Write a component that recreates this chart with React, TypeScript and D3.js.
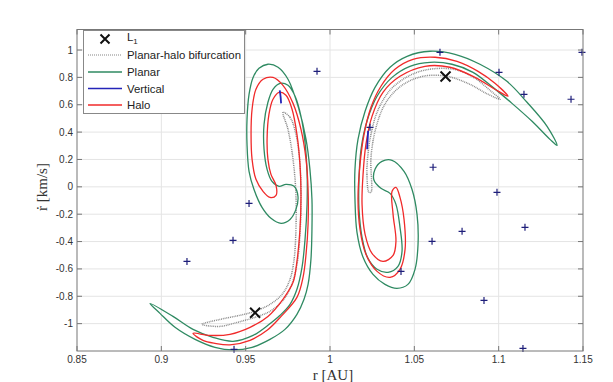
import React from 'react';
import * as d3 from 'd3';

type P = [number, number];

const W = 613;
const H = 382;

const xTicks = [0.85, 0.9, 0.95, 1, 1.05, 1.1, 1.15];
const xTickLabels = ['0.85', '0.9', '0.95', '1', '1.05', '1.1', '1.15'];
const yTicks = [-1, -0.8, -0.6, -0.4, -0.2, 0, 0.2, 0.4, 0.6, 0.8, 1];
const yTickLabels = ['-1', '-0.8', '-0.6', '-0.4', '-0.2', '0', '0.2', '0.4', '0.6', '0.8', '1'];

// planar manifold cuts (closed curves)
const planarLeft: P[] = [
  [0.8933, -0.852], [0.8992, -0.925], [0.9081, -1.027], [0.92, -1.115], [0.9318, -1.173], [0.9425, -1.192],
  [0.9538, -1.173], [0.9644, -1.115], [0.9733, -1.042], [0.9804, -0.932], [0.9846, -0.822], [0.987, -0.713],
  [0.9887, -0.53], [0.9893, -0.311], [0.9893, -0.091], [0.9881, 0.128], [0.9858, 0.347], [0.9816, 0.567],
  [0.9751, 0.786], [0.9692, 0.874], [0.9632, 0.896], [0.9579, 0.866], [0.9544, 0.8], [0.952, 0.676],
  [0.9508, 0.493], [0.9508, 0.311], [0.952, 0.113], [0.9549, -0.018], [0.9597, -0.15], [0.965, -0.23],
  [0.971, -0.267], [0.9763, -0.238], [0.9798, -0.165], [0.981, -0.069], [0.9787, 0.004], [0.9739, 0.018],
  [0.9698, 0.004], [0.9656, 0.04], [0.9627, 0.128], [0.9609, 0.274], [0.9609, 0.457], [0.9632, 0.618],
  [0.9662, 0.713], [0.9704, 0.757], [0.9751, 0.742], [0.9793, 0.662], [0.9828, 0.515], [0.9852, 0.325],
  [0.9864, 0.113], [0.9864, -0.128], [0.9852, -0.384], [0.9834, -0.589], [0.9804, -0.749], [0.9763, -0.859],
  [0.9704, -0.939], [0.9632, -1.012], [0.9544, -1.086], [0.9425, -1.129], [0.9306, -1.1], [0.9188, -1.042],
  [0.9069, -0.947],
];

const planarRight: P[] = [
  [1.1346, 0.303], [1.1287, 0.442], [1.1168, 0.618], [1.1049, 0.771], [1.0889, 0.896], [1.0741, 0.969],
  [1.0593, 0.991], [1.0457, 0.954], [1.0356, 0.874], [1.0267, 0.727], [1.0208, 0.552], [1.0166, 0.347],
  [1.0148, 0.128], [1.0148, -0.091], [1.016, -0.333], [1.0196, -0.515], [1.0255, -0.64], [1.0326, -0.713],
  [1.0397, -0.742], [1.0462, -0.713], [1.0504, -0.603], [1.0522, -0.42], [1.0516, -0.201], [1.0486, -0.018],
  [1.0439, 0.113], [1.0368, 0.194], [1.0308, 0.186], [1.0267, 0.128], [1.0261, 0.048], [1.0302, -0.011],
  [1.0356, -0.048], [1.0391, -0.128], [1.0415, -0.296], [1.0427, -0.472], [1.0403, -0.581], [1.0344, -0.625],
  [1.0279, -0.603], [1.0225, -0.523], [1.019, -0.369], [1.0172, -0.165], [1.0172, 0.055], [1.0184, 0.274],
  [1.0219, 0.479], [1.0279, 0.662], [1.0368, 0.8], [1.0474, 0.881], [1.0593, 0.91], [1.0723, 0.896],
  [1.0848, 0.837], [1.0966, 0.727], [1.1079, 0.61], [1.1198, 0.479], [1.1304, 0.347],
];

// halo manifold cuts
const haloLeft: P[] = [
  [0.9188, -1.071], [0.9247, -1.122], [0.9318, -1.144], [0.9407, -1.155], [0.9526, -1.122], [0.9627, -1.049],
  [0.971, -0.947], [0.9804, -0.808], [0.984, -0.662], [0.9858, -0.493], [0.987, -0.274], [0.987, -0.018],
  [0.9858, 0.201], [0.9828, 0.42], [0.9781, 0.61], [0.9721, 0.742], [0.9662, 0.8], [0.9603, 0.786],
  [0.9561, 0.713], [0.9538, 0.567], [0.9532, 0.384], [0.9538, 0.201], [0.9561, 0.055], [0.9603, -0.033],
  [0.9644, -0.077], [0.968, -0.062], [0.968, 0.011], [0.965, 0.091], [0.9632, 0.201], [0.9627, 0.347],
  [0.9638, 0.53], [0.9662, 0.64], [0.9698, 0.691], [0.9739, 0.669], [0.9775, 0.567], [0.9804, 0.384],
  [0.9822, 0.165], [0.9828, -0.055], [0.9822, -0.311], [0.9804, -0.545], [0.9781, -0.698], [0.9721, -0.822],
  [0.9632, -0.947], [0.9526, -1.027], [0.9407, -1.078], [0.9289, -1.086],
];

const haloRight: P[] = [
  [1.1055, 0.662], [1.0978, 0.757], [1.0878, 0.844], [1.0753, 0.917], [1.0623, 0.947], [1.0492, 0.932],
  [1.0385, 0.859], [1.0302, 0.735], [1.0243, 0.581], [1.0202, 0.384], [1.0178, 0.165], [1.0166, -0.091],
  [1.0178, -0.311], [1.0213, -0.493], [1.0279, -0.618], [1.0356, -0.662], [1.0415, -0.603], [1.0445, -0.457],
  [1.0439, -0.238], [1.0415, -0.077], [1.0391, -0.004], [1.0368, -0.033], [1.0374, -0.201], [1.0391, -0.398],
  [1.0374, -0.501], [1.0314, -0.545], [1.0249, -0.486], [1.0208, -0.347], [1.019, -0.128], [1.0196, 0.091],
  [1.0213, 0.311], [1.0249, 0.515], [1.0314, 0.691], [1.0415, 0.808], [1.0563, 0.881], [1.0711, 0.874],
  [1.086, 0.8], [1.0978, 0.713],
];

// planar-halo bifurcation orbit cuts
const bifLeft: P[] = [
  [0.9721, 0.545], [0.9763, 0.508], [0.9798, 0.384], [0.9822, 0.165], [0.9828, -0.091], [0.9822, -0.347],
  [0.9804, -0.567], [0.9769, -0.727], [0.9716, -0.837], [0.9644, -0.91], [0.9555, -0.954], [0.9449, -0.991],
  [0.9348, -1.02], [0.9241, -1.005], [0.9348, -0.969], [0.9466, -0.939], [0.9555, -0.91], [0.9644, -0.859],
  [0.9716, -0.786], [0.9763, -0.676], [0.9787, -0.53], [0.9798, -0.311], [0.9798, -0.055], [0.9781, 0.201],
  [0.9751, 0.42],
];

const bifRight: P[] = [
  [1.0231, -0.04], [1.0219, 0.091], [1.0225, 0.238], [1.0243, 0.384], [1.0279, 0.545], [1.035, 0.698],
  [1.0433, 0.786], [1.0534, 0.844], [1.0652, 0.866], [1.0759, 0.852], [1.086, 0.793], [1.0949, 0.705],
  [1.1008, 0.64], [1.0925, 0.684], [1.083, 0.749], [1.0694, 0.808], [1.0551, 0.808], [1.0427, 0.742],
  [1.0332, 0.618], [1.0273, 0.435], [1.0243, 0.216], [1.0243, -0.04],
];

// vertical orbit cuts (tiny, nearly straight)
const verticalLeft: P[] = [[0.9702, 0.705], [0.9707, 0.66], [0.9710, 0.61]];
const verticalRight: P[] = [[1.0226, 0.41], [1.0223, 0.34], [1.022, 0.275]];

// scattered + markers
const plusR = [1.0652, 1.1002, 1.115, 1.1494, 1.1429, 1.0237, 1.0611, 1.0605, 1.0783, 1.099, 1.1156, 1.0913,
  1.0421, 1.1144, 0.9923, 0.952, 0.9425, 0.9152, 0.9431];
const plusV = [0.983, 0.837, 0.676, 0.983, 0.64, 0.435, 0.143, -0.398, -0.325, -0.04, -0.296, -0.83,
  -0.618, -1.181, 0.844, -0.121, -0.391, -0.545, -1.188];

// Lagrange points L1, L2
const lagR = [0.9556, 1.0685];
const lagV = [-0.92, 0.807];

const GREEN = '#2f8a62';
const RED = '#f02a2a';
const BLUE = '#2424b8';
const GRAY = '#858585';
const NAVY = '#1e1e7a';

const sans = '"Liberation Sans", Arial, Helvetica, sans-serif';
const serif = '"Liberation Serif", "DejaVu Serif", "Times New Roman", serif';

export default function App() {
  const x = d3.scaleLinear().domain([0.85, 1.15]).range([77, 583]);
  const y = d3.scaleLinear().domain([-1.2, 1.15]).range([351, 29.5]);

  const closed = d3.line<P>()
    .x(d => x(d[0]))
    .y(d => y(d[1]))
    .curve(d3.curveCatmullRomClosed.alpha(0.5));

  const open = d3.line<P>()
    .x(d => x(d[0]))
    .y(d => y(d[1]))
    .curve(d3.curveCatmullRom.alpha(0.5));

  const [x0, x1] = x.range();
  const [y0, y1] = y.range();

  const cross = (cx: number, cy: number, s: number) =>
    `M${cx - s},${cy - s}L${cx + s},${cy + s}M${cx - s},${cy + s}L${cx + s},${cy - s}`;

  return (
    <div style={{ position: 'absolute', left: 0, top: 0 }}>
      <svg width={W} height={H} style={{ display: 'block', background: '#fff' }}>
        <rect x={0} y={0} width={W} height={H} fill="#fff" />
        {/* grid */}
        <g stroke="#e4e4e4" strokeWidth={1}>
          {xTicks.slice(1, -1).map(t => (
            <line key={'gx' + t} x1={x(t)} x2={x(t)} y1={y0} y2={y1} />
          ))}
          {yTicks.map(t => (
            <line key={'gy' + t} x1={x0} x2={x1} y1={y(t)} y2={y(t)} />
          ))}
        </g>

        {/* curves */}
        <g fill="none">
          {[bifLeft, bifRight].map((c, i) => (
            <path key={'b' + i} d={closed(c) || ''} stroke={GRAY} strokeWidth={1.5} strokeDasharray="0.9 0.9" />
          ))}
          {[planarLeft, planarRight].map((c, i) => (
            <path key={'p' + i} d={closed(c) || ''} stroke={GREEN} strokeWidth={1.3} />
          ))}
          {[haloLeft, haloRight].map((c, i) => (
            <path key={'h' + i} d={closed(c) || ''} stroke={RED} strokeWidth={1.3} />
          ))}
          {[verticalLeft, verticalRight].map((c, i) => (
            <path key={'v' + i} d={open(c) || ''} stroke={BLUE} strokeWidth={1.8} />
          ))}
        </g>

        {/* + markers */}
        <g stroke={NAVY} strokeWidth={1.2}>
          {plusR.map((r, i) => {
            const cx = x(r), cy = y(plusV[i]);
            return <path key={'m' + i} d={`M${cx - 3.5},${cy}H${cx + 3.5}M${cx},${cy - 3.5}V${cy + 3.5}`} />;
          })}
        </g>

        {/* Lagrange points */}
        <g stroke="#111" strokeWidth={2} fill="none">
          {lagR.map((r, i) => (
            <path key={'L' + i} d={cross(x(r), y(lagV[i]), 5)} />
          ))}
        </g>

        {/* frame and ticks */}
        <rect x={x0} y={y1} width={x1 - x0} height={y0 - y1} fill="none" stroke="#777" strokeWidth={1} />
        <g stroke="#777" strokeWidth={1}>
          {xTicks.map(t => (
            <g key={'tx' + t}>
              <line x1={x(t)} x2={x(t)} y1={y0} y2={y0 - 5} />
              <line x1={x(t)} x2={x(t)} y1={y1} y2={y1 + 5} />
            </g>
          ))}
          {yTicks.map(t => (
            <g key={'ty' + t}>
              <line x1={x0} x2={x0 + 5} y1={y(t)} y2={y(t)} />
              <line x1={x1} x2={x1 - 5} y1={y(t)} y2={y(t)} />
            </g>
          ))}
        </g>
        <g fontFamily={sans} fontSize={10} fill="#333">
          {xTicks.map((t, i) => (
            <text key={'lx' + t} x={x(t)} y={y0 + 12} textAnchor="middle">{xTickLabels[i]}</text>
          ))}
          {yTicks.map((t, i) => (
            <text key={'ly' + t} x={x0 - 4} y={y(t) + 3.5} textAnchor="end">{yTickLabels[i]}</text>
          ))}
        </g>

        {/* axis labels */}
        <text x={333} y={380} textAnchor="middle" fontFamily={serif} fontSize={15} fill="#333">r [AU]</text>
        <text transform="translate(47,187) rotate(-90)" textAnchor="middle" fontFamily={serif} fontSize={15} fill="#333">
          ṙ [km/s]
        </text>

        {/* legend */}
        <g>
          <rect x={83.5} y={30.5} width={161} height={83} fill="#fff" stroke="#888" strokeWidth={1} />
          <path d={cross(105, 39, 4.5)} stroke="#111" strokeWidth={2} fill="none" />
          <line x1={88} x2={122} y1={55} y2={55} stroke={GRAY} strokeWidth={1.2} strokeDasharray="1 1" />
          <line x1={88} x2={122} y1={72} y2={72} stroke={GREEN} strokeWidth={1.3} />
          <line x1={88} x2={122} y1={88.5} y2={88.5} stroke={BLUE} strokeWidth={1.3} />
          <line x1={88} x2={122} y1={105} y2={105} stroke={RED} strokeWidth={1.3} />
          <g fontFamily={sans} fontSize={11.4} fill="#222">
            <text x={127} y={41}>L<tspan fontSize={8} dy={3}>1</tspan></text>
            <text x={127} y={59}>Planar-halo bifurcation</text>
            <text x={127} y={76}>Planar</text>
            <text x={127} y={92.5}>Vertical</text>
            <text x={127} y={109}>Halo</text>
          </g>
        </g>
      </svg>
    </div>
  );
}
